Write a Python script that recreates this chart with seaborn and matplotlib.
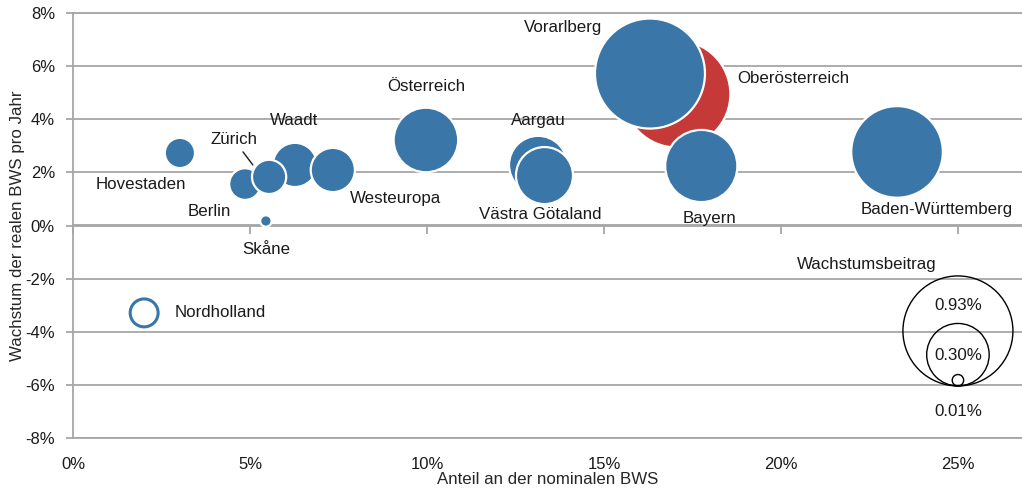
import numpy as np
import pandas as pd
import matplotlib
matplotlib.use("Agg")
import matplotlib.pyplot as plt
from matplotlib.ticker import FuncFormatter, MultipleLocator
from matplotlib.transforms import ScaledTranslation
import seaborn as sns

# data (percent units), drawing order = list order
regionen = ["Hovestaden", "Berlin", "Waadt", "Zürich", "Westeuropa", "Skåne",
            "Österreich", "Aargau", "Västra Götaland", "Oberösterreich",
            "Vorarlberg", "Bayern", "Baden-Württemberg"]
anteil = [3.02, 4.86, 6.27, 5.54, 7.34, 5.45, 9.97, 13.14, 13.32, 17.06,
          16.30, 17.75, 23.28]
wachstum = [2.73, 1.56, 2.28, 1.83, 2.09, 0.17, 3.22, 2.28, 1.88, 4.95,
            5.72, 2.24, 2.77]
beitrag = [0.07, 0.077, 0.15, 0.09, 0.15, 0.01, 0.32, 0.26, 0.25, 0.88,
           0.93, 0.40, 0.645]
gruppe = ["Region"] * 9 + ["Fokus"] + ["Region"] * 3

# negative contribution (hollow bubble)
neg_region = "Nordholland"
neg_anteil = 2.01
neg_wachstum = -3.29
neg_beitrag = -0.06

legend_werte = [0.93, 0.30, 0.01]

# label placement (data coords)
label_pos = {
    "Vorarlberg": (13.84, 7.44),
    "Oberösterreich": (20.34, 5.55),
    "Österreich": (9.97, 5.25),
    "Aargau": (13.16, 3.97),
    "Waadt": (6.24, 3.97),
    "Hovestaden": (1.92, 1.56),
    "Berlin": (3.84, 0.51),
    "Westeuropa": (9.12, 1.0),
    "Västra Götaland": (13.19, 0.40),
    "Bayern": (17.97, 0.28),
    "Baden-Württemberg": (24.41, 0.62),
    "Skåne": (5.45, -0.92),
}

BLUE = "#3a76a8"
RED = "#c63939"
GRID = "#a6a6a6"
TXT = "#1a1a1a"
K = 6745  # points^2 per 1 % contribution

sns.set_theme(style="white")
plt.rcParams["font.family"] = ["Liberation Sans", "DejaVu Sans"]
plt.rcParams["text.color"] = TXT

df = pd.DataFrame({"region": regionen, "anteil": anteil, "wachstum": wachstum,
                   "beitrag": beitrag, "gruppe": gruppe})

fig = plt.figure(figsize=(10.22, 4.88), dpi=100)
ax = fig.add_axes([73 / 1022, 1 - 438 / 488, 1 - 73 / 1022, (438 - 13) / 488])

sns.scatterplot(data=df, x="anteil", y="wachstum", size="beitrag",
                sizes=(0, K), size_norm=(0, 1), hue="gruppe",
                palette={"Region": BLUE, "Fokus": RED},
                edgecolor="white", linewidth=1.6, alpha=1, legend=False,
                ax=ax, zorder=3)

ax.scatter([neg_anteil], [neg_wachstum], s=K * abs(neg_beitrag),
           facecolors="none", edgecolors=BLUE, linewidths=2.2, zorder=3)

fs = 12.2
for name, (tx, ty) in label_pos.items():
    ax.text(tx, ty, name, ha="center", va="center", fontsize=fs, zorder=4)

ax.annotate("Zürich", xy=(5.08, 2.28), xytext=(4.55, 3.22),
            ha="center", va="center", fontsize=fs,
            arrowprops=dict(arrowstyle="-", color=TXT, lw=1, shrinkA=1, shrinkB=0))
ax.text(2.88, neg_wachstum, neg_region, ha="left", va="center", fontsize=fs)

# size key
for v in legend_werte:
    s = K * v
    r_pt = np.sqrt(s) / 2
    tr = ax.transData + ScaledTranslation(0, r_pt / 72, fig.dpi_scale_trans)
    ax.scatter([25], [-6.04], s=s, facecolors="none", edgecolors="black",
               linewidths=1, transform=tr, zorder=3)
ax.text(22.43, -1.48, "Wachstumsbeitrag", ha="center", va="center", fontsize=fs)
ax.text(25, -3.03, "0.93%", ha="center", va="center", fontsize=fs)
ax.text(25, -4.91, "0.30%", ha="center", va="center", fontsize=fs)
ax.text(25, -7.02, "0.01%", ha="center", va="center", fontsize=fs)

# axes
ax.set_xlim(0, 26.81)
ax.set_ylim(-8, 8)
ax.xaxis.set_major_locator(MultipleLocator(5))
ax.yaxis.set_major_locator(MultipleLocator(2))
pct = FuncFormatter(lambda v, p: f"{v:.0f}%")
ax.xaxis.set_major_formatter(pct)
ax.yaxis.set_major_formatter(pct)
ax.yaxis.grid(True, color=GRID, lw=1.3)
ax.xaxis.grid(False)
for side in ["top", "bottom", "left"]:
    ax.spines[side].set_color(GRID)
    ax.spines[side].set_linewidth(1.3)
ax.spines["right"].set_visible(False)
ax.tick_params(axis="y", direction="out", length=5, color=GRID, width=1.3,
               labelsize=12, pad=8, left=True, labelcolor=TXT)
ax.tick_params(axis="x", length=0, labelsize=12, pad=14, labelcolor=TXT)

sec = ax.secondary_xaxis(0.5)
sec.xaxis.set_ticks_position("bottom")
sec.xaxis.set_major_locator(MultipleLocator(5))
sec.tick_params(axis="x", direction="out", length=6, color=GRID, width=1.3,
                labelbottom=False, labeltop=False)
for sp in sec.spines.values():
    sp.set_color(GRID)
    sp.set_linewidth(1.3)

ax.set_xlabel("Anteil an der nominalen BWS", fontsize=12.2, labelpad=0)
ax.set_ylabel("Wachstum der realen BWS pro Jahr", fontsize=12.2, labelpad=0)

fig.savefig("out.png", dpi=100)
